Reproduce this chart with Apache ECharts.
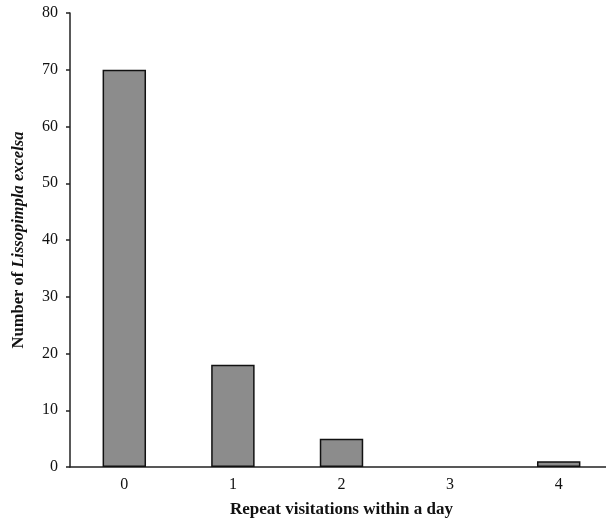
<!DOCTYPE html>
<html><head><meta charset="utf-8">
<script src="https://cdn.jsdelivr.net/npm/echarts@6/dist/echarts.min.js"></script>
<style>html,body{margin:0;padding:0;background:#fff}#c{width:606px;height:521px}</style>
</head><body><div id="c"></div>
<script>
var categories = ['0', '1', '2', '3', '4'];
var counts = [70, 18, 5, 0, 1];
var yTicks = [0, 10, 20, 30, 40, 50, 60, 70, 80];

var chart = echarts.init(document.getElementById('c'));
var font = 'Liberation Serif';
chart.setOption({
  animation: false,
  grid: {left: 70, right: -7, top: 13, bottom: 54, containLabel: false, outerBoundsMode: 'none'},
  xAxis: {
    type: 'category',
    data: categories,
    axisLine: {lineStyle: {color: '#222', width: 1.5}},
    axisTick: {show: false},
    axisLabel: {color: '#111', fontFamily: font, fontSize: 16, margin: 10},
    name: 'Repeat visitations within a day',
    nameLocation: 'middle',
    nameGap: 34,
    nameTextStyle: {color: '#111', fontFamily: font, fontSize: 17, fontWeight: 'bold'}
  },
  yAxis: {
    type: 'value',
    min: 0, max: 80, interval: 10,
    splitLine: {show: false},
    axisLine: {show: true, lineStyle: {color: '#222', width: 1.5}},
    axisTick: {show: true, inside: false, length: 4, lineStyle: {color: '#222', width: 1.5}},
    axisLabel: {color: '#111', fontFamily: font, fontSize: 16, margin: 12,
      formatter: function (v) { return yTicks.indexOf(v) >= 0 ? String(v) : ''; }},
    name: '{b|Number of }{i|Lissopimpla excelsa}',
    nameLocation: 'middle',
    nameGap: 43,
    nameTextStyle: {
      rich: {
        b: {fontFamily: font, fontSize: 16.5, fontWeight: 'bold', color: '#111'},
        i: {fontFamily: font, fontSize: 16.5, fontWeight: 'bold', fontStyle: 'italic', color: '#111'}
      }
    }
  },
  series: [{
    type: 'bar',
    data: counts.map(function (v) {
      return v === 0 ? {value: v, itemStyle: {borderWidth: 0}} : v;
    }),
    barWidth: '40%',
    itemStyle: {color: '#8c8c8c', borderColor: '#111', borderWidth: 1.5}
  }]
});
</script></body></html>
